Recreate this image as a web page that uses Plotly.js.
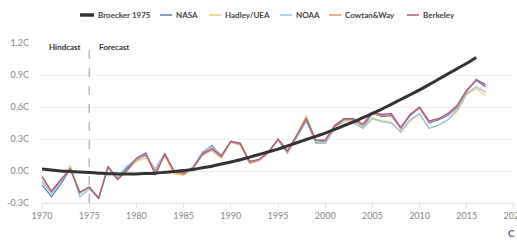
<!DOCTYPE html>
<html>
<head>
<meta charset="utf-8">
<script src="https://cdn.plot.ly/plotly-3.0.1.min.js"></script>
<style>html,body{margin:0;padding:0;background:#fff;}#chart{width:517px;height:241px;}</style>
</head>
<body>
<div id="chart"></div>
<script>
const years = [1970,1971,1972,1973,1974,1975,1976,1977,1978,1979,1980,1981,1982,1983,1984,1985,1986,1987,1988,1989,1990,1991,1992,1993,1994,1995,1996,1997,1998,1999,2000,2001,2002,2003,2004,2005,2006,2007,2008,2009,2010,2011,2012,2013,2014,2015,2016,2017];
const broeckerYears = [1970,1971,1972,1973,1974,1975,1976,1977,1978,1979,1980,1981,1982,1983,1984,1985,1986,1987,1988,1989,1990,1991,1992,1993,1994,1995,1996,1997,1998,1999,2000,2001,2002,2003,2004,2005,2006,2007,2008,2009,2010,2011,2012,2013,2014,2015,2016];
const broecker = [0.02,0.01,0.0,-0.005,-0.01,-0.015,-0.02,-0.025,-0.027,-0.028,-0.027,-0.024,-0.02,-0.012,-0.005,0.005,0.015,0.03,0.045,0.065,0.085,0.105,0.13,0.155,0.18,0.205,0.235,0.265,0.295,0.325,0.355,0.39,0.425,0.46,0.5,0.54,0.58,0.625,0.67,0.715,0.76,0.81,0.86,0.91,0.96,1.01,1.065];
const nasa = [-0.13,-0.24,-0.12,0.02,-0.21,-0.15,-0.25,0.03,-0.07,0.03,0.10,0.15,0.00,0.15,-0.01,-0.03,0.03,0.17,0.24,0.14,0.27,0.26,0.07,0.10,0.18,0.29,0.17,0.32,0.47,0.27,0.28,0.41,0.48,0.48,0.41,0.54,0.51,0.52,0.40,0.52,0.59,0.45,0.48,0.52,0.60,0.75,0.86,0.81];
const hadley = [-0.09,-0.19,-0.09,0.05,-0.21,-0.16,-0.25,0.04,-0.07,0.01,0.09,0.12,0.01,0.14,-0.03,-0.04,0.02,0.15,0.19,0.12,0.27,0.24,0.07,0.10,0.17,0.30,0.18,0.34,0.52,0.28,0.26,0.40,0.46,0.47,0.41,0.50,0.47,0.46,0.36,0.47,0.53,0.40,0.43,0.48,0.56,0.72,0.77,0.71];
const noaa = [-0.10,-0.21,-0.10,0.03,-0.24,-0.17,-0.25,0.04,-0.06,0.05,0.11,0.14,0.02,0.17,-0.01,-0.02,0.04,0.18,0.23,0.15,0.28,0.26,0.08,0.11,0.18,0.29,0.18,0.33,0.48,0.26,0.26,0.39,0.44,0.45,0.40,0.49,0.46,0.45,0.37,0.48,0.54,0.40,0.43,0.48,0.58,0.73,0.79,0.74];
const cowtan = [-0.06,-0.19,-0.09,0.02,-0.20,-0.15,-0.25,0.04,-0.08,0.00,0.11,0.16,-0.01,0.15,-0.01,-0.03,0.03,0.15,0.20,0.13,0.27,0.25,0.08,0.10,0.17,0.30,0.18,0.33,0.50,0.29,0.28,0.42,0.49,0.48,0.43,0.54,0.52,0.53,0.40,0.53,0.59,0.46,0.49,0.53,0.61,0.75,0.85,0.79];
const berkeley = [-0.05,-0.19,-0.08,0.02,-0.20,-0.15,-0.26,0.04,-0.08,0.01,0.12,0.17,-0.04,0.16,0.00,-0.02,0.03,0.16,0.21,0.14,0.28,0.26,0.09,0.11,0.18,0.30,0.19,0.34,0.49,0.29,0.29,0.43,0.49,0.49,0.44,0.55,0.53,0.54,0.41,0.53,0.60,0.47,0.49,0.54,0.62,0.76,0.85,0.79];
const seriesNames = ['Broecker 1975','NASA','Hadley/UEA','NOAA','Cowtan&Way','Berkeley'];
const yTickVals = [-0.3,0,0.3,0.6,0.9,1.2];
const yTickText = ['-0.3C','0.0C','0.3C','0.6C','0.9C','1.2C'];
const xTickVals = [1970,1975,1980,1985,1990,1995,2000,2005,2010,2015,2020];

const colors = ['#333333','#5f82b8','#ecd37c','#93c4e2','#e38f83','#a5607f'];
const widths = [3,1.3,1.3,1.3,1.3,1.3];
const obsData = [null, nasa, hadley, noaa, cowtan, berkeley];

const traces = [];
for (let i = 1; i < 6; i++) {
  traces.push({x: years, y: obsData[i], name: seriesNames[i], type: 'scatter', mode: 'lines',
    line: {color: colors[i], width: widths[i]}, showlegend: false});
}
traces.push({x: broeckerYears, y: broecker, name: seriesNames[0], type: 'scatter', mode: 'lines',
  line: {color: colors[0], width: widths[0], shape: 'spline'}, showlegend: false});

// plot area in px: left 42, width 472, top 43, height 160
const L = 42, W = 472, T = 43, H = 160;
const px2x = p => (p - L) / W;
const px2y = p => (T + H - p) / H;

// manual legend (line-sample start px for each entry)
const legendStart = [80, 160, 209, 280, 329, 407];
const shapes = [{type: 'line', xref: 'x', yref: 'paper', x0: 1975, x1: 1975, y0: 0, y1: 1,
  line: {color: '#999', width: 1, dash: 'dash'}}];
const annotations = [];
const legY = px2y(15);
for (let i = 0; i < 6; i++) {
  const s = legendStart[i];
  shapes.push({type: 'line', xref: 'paper', yref: 'paper', x0: px2x(s), x1: px2x(s + (i === 0 ? 14 : 12)),
    y0: legY, y1: legY, line: {color: colors[i], width: i === 0 ? 3.5 : 1.5}});
  annotations.push({xref: 'paper', yref: 'paper', x: px2x(s + (i === 0 ? 16 : 14)), y: legY,
    xanchor: 'left', yanchor: 'middle', showarrow: false, text: seriesNames[i],
    font: {family: 'Lato, sans-serif', size: 8, color: '#444', weight: 'bold'}});
}
annotations.push(
  {xref: 'x', yref: 'paper', x: 1975, y: 1, xanchor: 'right', yanchor: 'top', xshift: -6, yshift: 3,
    text: 'Hindcast', showarrow: false, font: {family: 'Lato, sans-serif', size: 8, color: '#333', weight: 'bold'}},
  {xref: 'x', yref: 'paper', x: 1975, y: 1, xanchor: 'left', yanchor: 'top', xshift: 8, yshift: 3,
    text: 'Forecast', showarrow: false, font: {family: 'Lato, sans-serif', size: 8, color: '#333', weight: 'bold'}},
  {xref: 'paper', yref: 'paper', x: px2x(511), y: px2y(241), xanchor: 'center', yanchor: 'bottom',
    text: 'C', showarrow: false, font: {family: 'Lato, sans-serif', size: 10, color: '#4a6786', weight: 'bold'}}
);

const layout = {
  width: 517, height: 241,
  margin: {l: L, r: 3, t: T, b: 241 - T - H},
  paper_bgcolor: '#ffffff', plot_bgcolor: '#ffffff',
  font: {family: 'Lato, sans-serif', size: 9, color: '#888'},
  showlegend: false,
  xaxis: {range: [1970, 2020.001], tickvals: xTickVals, showgrid: false, zeroline: false,
    showline: true, linecolor: '#e3e3e3', linewidth: 1, ticks: 'outside', ticklen: 4, tickcolor: '#e3e3e3',
    tickfont: {size: 9, color: '#888'}, ticklabeloverflow: 'allow', fixedrange: true},
  yaxis: {range: [-0.3, 1.2], tickvals: yTickVals, ticktext: yTickText, showgrid: true, gridcolor: '#eeeeee',
    zeroline: false, showline: false, ticks: '', ticklabelstandoff: 12,
    tickfont: {size: 9, color: '#888'}, fixedrange: true},
  shapes: shapes,
  annotations: annotations
};
Plotly.newPlot('chart', traces, layout, {displayModeBar: false, staticPlot: true});
</script>
</body>
</html>
